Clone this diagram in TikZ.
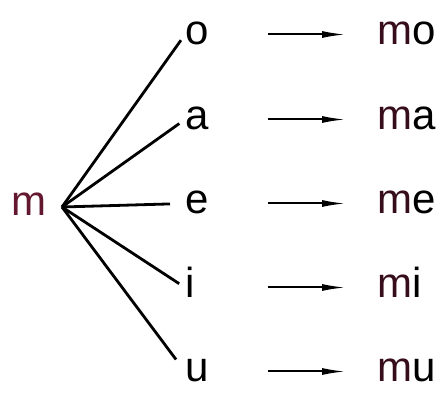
\documentclass[tikz,border=0pt]{standalone}
\usepackage{fontspec}
\setmainfont{Liberation Sans}
\usepackage{tikz}
\usetikzlibrary{
    arrows.meta,
    positioning
}
\definecolor{consred}{HTML}{641830}
\colorlet{consdark}{consred!55!black}

\begin{document}
\begin{tikzpicture}[
    x=1pt,
    y=-1pt,
    every node/.style={
        font=\fontsize{42pt}{50pt}\selectfont,
        inner sep=0pt,
        text height=21pt,
        text depth=0pt
    },
    vowel/.style={
        anchor=base west,
        text width=24pt,
        align=left
    },
    syllable/.style={
        anchor=base west
    },
    branch/.style={
        line width=2.8pt,
        shorten >=7pt
    },
    linkarrow/.style={
        line width=2pt,
        -{Latex[length=24pt,width=7pt]},
        shorten <=59pt,
        shorten >=31pt
    }
]

    \useasboundingbox (0,0) rectangle (445,395);

    % Consonant on the left
    \node[anchor=base west, text=consred] (m) at (11,216) {m};
    \coordinate (fan) at (62,207);

    % Vowels
    \node[vowel] (o) at (185,45) {o};
    \node[vowel] (a) at (185,130) {a};
    \node[vowel] (e) at (185,214) {e};
    \node[vowel] (i) at (185,298) {i};
    \node[vowel] (u) at (185,382) {u};

    % Syllables
    \node[syllable] (mo) at (377,45) {\textcolor{consdark}{m}o};
    \node[syllable] (ma) at (377,130) {\textcolor{consdark}{m}a};
    \node[syllable] (me) at (377,214) {\textcolor{consdark}{m}e};
    \node[syllable] (mi) at (377,298) {\textcolor{consdark}{m}i};
    \node[syllable] (mu) at (377,382) {\textcolor{consdark}{m}u};

    % Branches from m
    \draw[branch] (fan) -- (o.west);
    \draw[branch] (fan) -- (a.west);
    \draw[branch, shorten >=15pt] (fan) -- (e.west);
    \draw[branch] (fan) -- (i.west);
    \draw[branch, shorten >=15pt] (fan) -- (u.west);

    % Arrows to syllables
    \draw[linkarrow] (o.east) -- (mo.west);
    \draw[linkarrow] (a.east) -- (ma.west);
    \draw[linkarrow] (e.east) -- (me.west);
    \draw[linkarrow] (i.east) -- (mi.west);
    \draw[linkarrow] (u.east) -- (mu.west);

\end{tikzpicture}
\end{document}
